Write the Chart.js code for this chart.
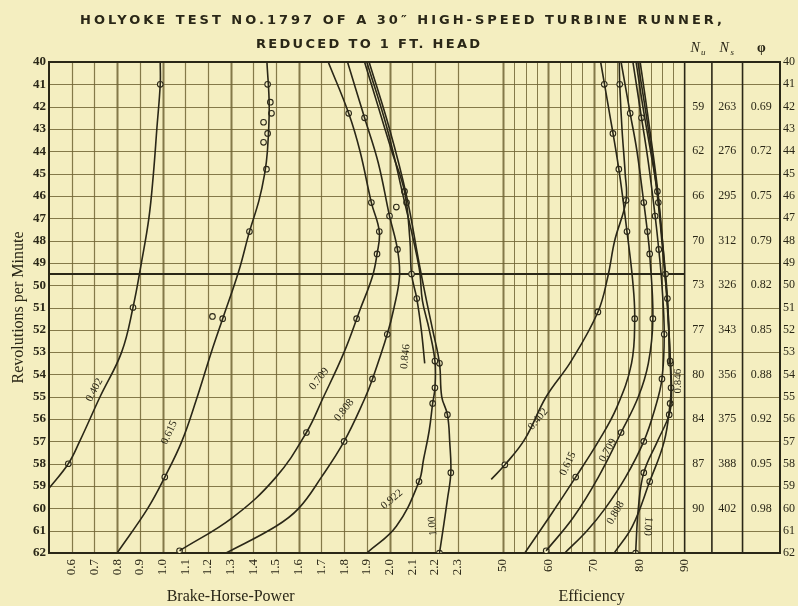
<!DOCTYPE html>
<html>
<head>
<meta charset="utf-8">
<script src="https://cdn.jsdelivr.net/npm/chart.js@4.4.0/dist/chart.umd.min.js"></script>
<style>
  html, body { margin: 0; padding: 0; background: #f4eec0; }
  canvas { display: block; }
</style>
</head>
<body>
<canvas id="chart" width="798" height="606"></canvas>
<script>
// ---- data: [rpm, value] ----
const rpmTicks = [40, 41, 42, 43, 44, 45, 46, 47, 48, 49, 50, 51, 52, 53, 54, 55, 56, 57, 58, 59, 60, 61, 62];
const bhpTicks = [0.6, 0.7, 0.8, 0.9, 1.0, 1.1, 1.2, 1.3, 1.4, 1.5, 1.6, 1.7, 1.8, 1.9, 2.0, 2.1, 2.2, 2.3];
const effTicks = [50, 60, 70, 80, 90];
const effGridLines = [50, 52.5, 55, 57.5, 60, 62.5, 65, 67.5, 70, 72.5, 75, 77.5, 80, 82.5, 85, 87.5];

// brake horse power curves
const bhp0402 = [[40, 0.99], [41, 0.99], [43, 0.975], [45, 0.96], [47, 0.94], [49, 0.907], [51, 0.87], [53, 0.82], [55, 0.725], [57, 0.635], [58, 0.585], [59.1, 0.5]];
const bhp0402Tests = [[41, 0.99], [51, 0.87], [58, 0.585]];
const bhp0615 = [[40, 1.46], [42, 1.47], [44, 1.462], [45, 1.45], [46.2, 1.425], [47.6, 1.383], [49.4, 1.335], [51.5, 1.265], [53, 1.215], [55.1, 1.15], [57, 1.085], [58.6, 1.01], [60, 0.935], [62, 0.8]];
const bhp0615Tests = [[41, 1.463], [41.8, 1.475], [42.3, 1.48], [42.7, 1.445], [43.2, 1.463], [43.6, 1.445], [44.8, 1.458], [47.6, 1.383], [51.4, 1.22], [51.5, 1.265], [58.6, 1.01]];
const bhp0709 = [[40, 1.73], [42.3, 1.82], [44, 1.87], [46.3, 1.92], [47.6, 1.955], [48.6, 1.945], [49.6, 1.925], [51.1, 1.87], [53, 1.8], [55.1, 1.705], [56.6, 1.634], [58.6, 1.5], [60.4, 1.31], [61.9, 1.075]];
const bhp0709Tests = [[42.3, 1.82], [46.3, 1.92], [47.6, 1.955], [48.6, 1.945], [51.5, 1.855], [56.6, 1.634], [61.9, 1.075]];
const bhp0808 = [[40, 1.815], [42.5, 1.89], [44.5, 1.95], [46.9, 2.0], [48.4, 2.035], [49.6, 2.044], [51, 2.02], [52.2, 1.99], [54.2, 1.925], [55.1, 1.89], [57, 1.8], [58.6, 1.7], [60, 1.6], [60.8, 1.5], [62, 1.28]];
const bhp0808Tests = [[42.5, 1.89], [46.9, 2.0], [48.4, 2.035], [52.2, 1.99], [54.2, 1.925], [57, 1.8]];
const bhp0846 = [[40, 1.89], [42, 1.95], [44, 2.01], [45.8, 2.066], [48, 2.09], [49.5, 2.097], [50.6, 2.12], [52, 2.14], [53.5, 2.155]];
const bhp0846Tests = [[45.8, 2.066], [46.3, 2.075], [46.5, 2.03], [49.5, 2.097], [50.6, 2.12]];
const bhp0922 = [[40, 1.9], [43, 1.99], [46, 2.06], [49.2, 2.13], [50.7, 2.145], [52, 2.175], [53.4, 2.2], [54.6, 2.2], [55.3, 2.19], [56.5, 2.175], [57.8, 2.15], [58.8, 2.13], [60.8, 2.03], [62, 1.9]];
const bhp0922Tests = [[53.4, 2.2], [54.6, 2.2], [55.3, 2.19], [58.8, 2.13]];
const bhp100 = [[40, 1.91], [43, 2.0], [46, 2.075], [49, 2.13], [50.7, 2.163], [52, 2.19], [53.5, 2.22], [55, 2.23], [55.8, 2.255], [57, 2.265], [58.4, 2.27], [59.6, 2.255], [61, 2.235], [62, 2.22]];
const bhp100Tests = [[53.5, 2.22], [55.8, 2.255], [58.4, 2.27], [62, 2.22]];

// efficiency curves (per cent)
const eff0402 = [[40, 75.6], [41, 75.7], [43, 76.2], [45, 76.9], [46.2, 77.1], [48, 74.6], [49.6, 73.1], [51.2, 70.9], [53.4, 65], [55, 59.5], [56.9, 54.8], [58.05, 50.4], [58.7, 47.4]];
const eff0402Tests = [[41, 75.7], [46.2, 77.1], [51.2, 70.9], [58.05, 50.4]];
const eff0615 = [[40, 71.5], [42, 73.2], [44.8, 75.5], [47.6, 77.3], [49.9, 78.6], [51.5, 79], [53.5, 78.3], [55.5, 75], [57, 71], [58.6, 66], [60.3, 60.5], [62, 54.8]];
const eff0615Tests = [[41, 72.3], [43.2, 74.2], [44.8, 75.5], [47.6, 77.3], [51.5, 79], [58.6, 66]];
const eff0709 = [[40, 76], [42.3, 78], [44, 79.5], [46.3, 81], [47.6, 81.8], [48.6, 82.3], [51.5, 83], [53.5, 82], [55, 79.8], [56.6, 76], [58.6, 71], [60.4, 65.5], [61.9, 59.5]];
const eff0709Tests = [[42.3, 78], [46.3, 81], [47.6, 81.8], [48.6, 82.3], [51.5, 83], [56.6, 76], [61.9, 59.5]];
const eff0808 = [[40, 78.6], [42.5, 80.5], [44.5, 82], [46.9, 83.5], [48.4, 84.3], [50, 85], [52.2, 85.5], [54.2, 85], [55.5, 83.5], [57, 81], [58.6, 77], [60, 72.5], [61, 68.5], [62, 63.6]];
const eff0808Tests = [[42.5, 80.5], [46.9, 83.5], [48.4, 84.3], [52.2, 85.5], [54.2, 85], [57, 81]];
const eff0846 = [[40, 79.3], [42, 80.8], [44, 82.5], [45.8, 84], [47, 84.6], [49.5, 85.8], [50.6, 86.2], [52, 86.5], [53.5, 86.6]];
const eff0846Tests = [[45.8, 84], [46.3, 84.2], [49.5, 85.8], [50.6, 86.2]];
const eff0922 = [[40, 79.7], [43, 82], [46, 84], [49.2, 85.5], [51, 86.3], [53.4, 86.8], [54.6, 87], [55.3, 86.8], [57, 85.5], [58.8, 82.3], [60.8, 78.5], [62, 74.5]];
const eff0922Tests = [[53.4, 86.8], [54.6, 87], [55.3, 86.8], [58.8, 82.3]];
const eff100 = [[40, 80.2], [43, 82.3], [46, 84.2], [49, 85.5], [51, 86.2], [53.5, 86.9], [55, 87.1], [55.8, 86.6], [57, 84], [58.4, 81], [60, 79.8], [62, 79.2]];
const eff100Tests = [[53.5, 86.9], [55.8, 86.6], [58.4, 81], [62, 79.2]];

// side table
const tableRpm = [42, 44, 46, 48, 50, 52, 54, 56, 58, 60];
const nuValues = [59, 62, 66, 70, 73, 77, 80, 84, 87, 90];
const nsValues = [263, 276, 295, 312, 326, 343, 356, 375, 388, 402];
const phiValues = ['0.69', '0.72', '0.75', '0.79', '0.82', '0.85', '0.88', '0.92', '0.95', '0.98'];

// gate-opening labels written along the curves (axis, value, rpm, angle)
const curveLabels = [
  { text: '0.402', axis: 'x', v: 0.70, r: 54.7, a: -62 },
  { text: '0.615', axis: 'x', v: 1.03, r: 56.6, a: -65 },
  { text: '0.709', axis: 'x', v: 1.69, r: 54.2, a: -52 },
  { text: '0.808', axis: 'x', v: 1.80, r: 55.6, a: -52 },
  { text: '0.846', axis: 'x', v: 2.07, r: 53.2, a: -84 },
  { text: '0.922', axis: 'x', v: 2.01, r: 59.6, a: -40 },
  { text: '1.00', axis: 'x', v: 2.19, r: 60.8, a: -95 },
  { text: '0.402', axis: 'xe', v: 57.7, r: 56.0, a: -50 },
  { text: '0.615', axis: 'xe', v: 64.3, r: 58.0, a: -65 },
  { text: '0.709', axis: 'xe', v: 73.1, r: 57.4, a: -60 },
  { text: '0.808', axis: 'xe', v: 74.8, r: 60.2, a: -60 },
  { text: '0.846', axis: 'xe', v: 88.5, r: 54.3, a: -90 },
  { text: '1.00', axis: 'xe', v: 81.9, r: 60.8, a: 95 }
];

const PAPER = '#f4eec0';
const INK = '#2a2717';
const GRID = 'rgba(112, 100, 52, 0.85)';
const SERIF = '"Liberation Serif", "DejaVu Serif", serif';

function curve(rows, axis) {
  return {
    type: 'scatter',
    showLine: true,
    data: rows.map(([r, v]) => ({ x: v, y: r })),
    xAxisID: axis,
    borderColor: INK,
    borderWidth: 1.6,
    pointRadius: 0,
    tension: 0.4,
    fill: false
  };
}

function tests(rows, axis) {
  return {
    type: 'scatter',
    data: rows.map(([r, v]) => ({ x: v, y: r })),
    xAxisID: axis,
    pointRadius: 2.8,
    pointBackgroundColor: PAPER,
    pointBorderColor: INK,
    pointBorderWidth: 1.1
  };
}

const datasets = [
  curve(bhp0402, 'x'), curve(bhp0615, 'x'), curve(bhp0709, 'x'), curve(bhp0808, 'x'),
  curve(bhp0846, 'x'), curve(bhp0922, 'x'), curve(bhp100, 'x'),
  curve(eff0402, 'xe'), curve(eff0615, 'xe'), curve(eff0709, 'xe'), curve(eff0808, 'xe'),
  curve(eff0846, 'xe'), curve(eff0922, 'xe'), curve(eff100, 'xe'),
  tests(bhp0402Tests, 'x'), tests(bhp0615Tests, 'x'), tests(bhp0709Tests, 'x'), tests(bhp0808Tests, 'x'),
  tests(bhp0846Tests, 'x'), tests(bhp0922Tests, 'x'), tests(bhp100Tests, 'x'),
  tests(eff0402Tests, 'xe'), tests(eff0615Tests, 'xe'), tests(eff0709Tests, 'xe'), tests(eff0808Tests, 'xe'),
  tests(eff0846Tests, 'xe'), tests(eff0922Tests, 'xe'), tests(eff100Tests, 'xe')
];

function line(ctx, x1, y1, x2, y2) {
  ctx.beginPath();
  ctx.moveTo(x1, y1);
  ctx.lineTo(x2, y2);
  ctx.stroke();
}

function spacedText(ctx, text, x, y, width) {
  const w = ctx.measureText(text).width;
  if ('letterSpacing' in ctx) {
    ctx.letterSpacing = ((width - w) / (text.length - 1)).toFixed(2) + 'px';
    ctx.fillText(text, x, y);
    ctx.letterSpacing = '0px';
  } else {
    ctx.save();
    ctx.translate(x, y);
    ctx.scale(width / w, 1);
    ctx.fillText(text, 0, 0);
    ctx.restore();
  }
}

const sheet = {
  id: 'sheet',
  beforeDraw(chart) {
    const ctx = chart.ctx;
    ctx.save();
    ctx.fillStyle = PAPER;
    ctx.fillRect(0, 0, chart.width, chart.height);
    ctx.restore();
  },
  beforeDatasetsDraw(chart) {
    const { ctx, chartArea: { left, right, top, bottom } } = chart;
    const x = chart.scales.x, xe = chart.scales.xe, y = chart.scales.y;
    const tableLeft = xe.getPixelForValue(90);
    ctx.save();
    ctx.strokeStyle = GRID;
    ctx.lineWidth = 1.2;
    rpmTicks.forEach(r => {
      const py = Math.round(y.getPixelForValue(r)) + 0.5;
      line(ctx, left, py, r % 2 === 1 ? right : tableLeft, py);
    });
    bhpTicks.forEach(v => {
      const px = Math.round(x.getPixelForValue(v)) + 0.5;
      ctx.lineWidth = [0.8, 1.0, 1.3, 1.6, 2.0].includes(v) ? 2 : 1.2;
      line(ctx, px, top, px, bottom);
    });
    effGridLines.forEach(v => {
      const px = Math.round(xe.getPixelForValue(v)) + 0.5;
      ctx.lineWidth = v % 10 === 0 ? 2 : 1;
      line(ctx, px, top, px, bottom);
    });
    ctx.strokeStyle = INK;
    ctx.lineWidth = 2.2;
    const py = y.getPixelForValue(49.5);
    line(ctx, left, py, tableLeft, py);
    // table columns
    ctx.lineWidth = 1.6;
    [tableLeft, x.getPixelForValue(3.42), x.getPixelForValue(3.555)].forEach(px => line(ctx, px, top, px, bottom));
    ctx.lineWidth = 2;
    ctx.strokeRect(left, top, right - left, bottom - top);
    ctx.restore();
  },
  afterDatasetsDraw(chart) {
    const { ctx, chartArea: { left, right, top, bottom } } = chart;
    const x = chart.scales.x, xe = chart.scales.xe, y = chart.scales.y;
    ctx.save();
    ctx.fillStyle = INK;

    // curve labels
    ctx.font = '11px ' + SERIF;
    ctx.textAlign = 'center';
    ctx.textBaseline = 'middle';
    curveLabels.forEach(l => {
      const px = chart.scales[l.axis].getPixelForValue(l.v);
      const py = y.getPixelForValue(l.r);
      ctx.save();
      ctx.translate(px, py);
      ctx.rotate(l.a * Math.PI / 180);
      ctx.fillText(l.text, 0, 0);
      ctx.restore();
    });

    // efficiency tick labels, turned like the BHP ones
    ctx.font = '13px ' + SERIF;
    ctx.textAlign = 'right';
    effTicks.forEach(v => {
      ctx.save();
      ctx.translate(xe.getPixelForValue(v), bottom + 6);
      ctx.rotate(-Math.PI / 2);
      ctx.fillText(String(v), 0, 0);
      ctx.restore();
    });

    // table
    const c1 = xe.getPixelForValue(90), c2 = x.getPixelForValue(3.42), c3 = x.getPixelForValue(3.555);
    ctx.textAlign = 'center';
    ctx.font = '12px ' + SERIF;
    tableRpm.forEach((r, i) => {
      const py = y.getPixelForValue(r);
      ctx.fillText(String(nuValues[i]), (c1 + c2) / 2, py);
      ctx.fillText(String(nsValues[i]), (c2 + c3) / 2, py);
      ctx.fillText(phiValues[i], (c3 + right) / 2, py);
    });
    ctx.font = 'italic 14px ' + SERIF;
    ctx.textBaseline = 'alphabetic';
    ctx.fillText('N', (c1 + c2) / 2 - 3, top - 10);
    ctx.fillText('N', (c2 + c3) / 2 - 3, top - 10);
    ctx.font = 'italic 9px ' + SERIF;
    ctx.fillText('u', (c1 + c2) / 2 + 5, top - 7);
    ctx.fillText('s', (c2 + c3) / 2 + 5, top - 7);
    ctx.font = 'bold 14px ' + SERIF;
    ctx.fillText('φ', (c3 + right) / 2, top - 10);

    // axis titles
    ctx.font = '16px ' + SERIF;
    ctx.textBaseline = 'middle';
    ctx.fillText('Brake-Horse-Power', x.getPixelForValue(1.3), 597);
    ctx.fillText('Efficiency', xe.getPixelForValue(69.5), 597);

    // heading
    ctx.font = 'bold 13px "DejaVu Sans", sans-serif';
    ctx.textAlign = 'left';
    spacedText(ctx, 'HOLYOKE TEST NO.1797 OF A 30″ HIGH-SPEED TURBINE RUNNER,', 80, 21, 642);
    spacedText(ctx, 'REDUCED TO 1 FT. HEAD', 256, 45, 224);
    ctx.restore();
  }
};

new Chart(document.getElementById('chart'), {
  type: 'scatter',
  data: { datasets },
  options: {
    responsive: false,
    animation: false,
    layout: { padding: { top: 62, left: 0, right: 0, bottom: 0 } },
    plugins: { legend: { display: false }, tooltip: { enabled: false } },
    scales: {
      x: {
        type: 'linear', position: 'bottom', min: 0.5, max: 3.72,
        grid: { display: false, drawTicks: false }, border: { display: false },
        afterBuildTicks: s => { s.ticks = bhpTicks.map(v => ({ value: v })); },
        afterFit: s => { s.height = 53; },
        ticks: {
          autoSkip: false, minRotation: 90, maxRotation: 90, padding: 6,
          color: INK, font: { family: SERIF, size: 13 },
          callback: v => Number(v).toFixed(1)
        }
      },
      xe: {
        type: 'linear', display: false, min: -50, max: 111
      },
      y: {
        type: 'linear', position: 'left', min: 40, max: 62, reverse: true,
        grid: { display: false, drawTicks: false }, border: { display: false },
        afterFit: s => { s.width = 49; },
        ticks: { stepSize: 1, autoSkip: false, padding: 3, color: INK, font: { family: SERIF, size: 13, weight: 'bold' } },
        title: { display: true, text: 'Revolutions per Minute', color: INK, font: { family: SERIF, size: 16 }, padding: { top: 9, bottom: 0 } }
      },
      y2: {
        type: 'linear', position: 'right', min: 40, max: 62, reverse: true,
        grid: { display: false, drawTicks: false }, border: { display: false },
        afterFit: s => { s.width = 18; },
        ticks: { stepSize: 1, autoSkip: false, padding: 3, color: INK, font: { family: SERIF, size: 12 } }
      }
    }
  },
  plugins: [sheet]
});
</script>
</body>
</html>
